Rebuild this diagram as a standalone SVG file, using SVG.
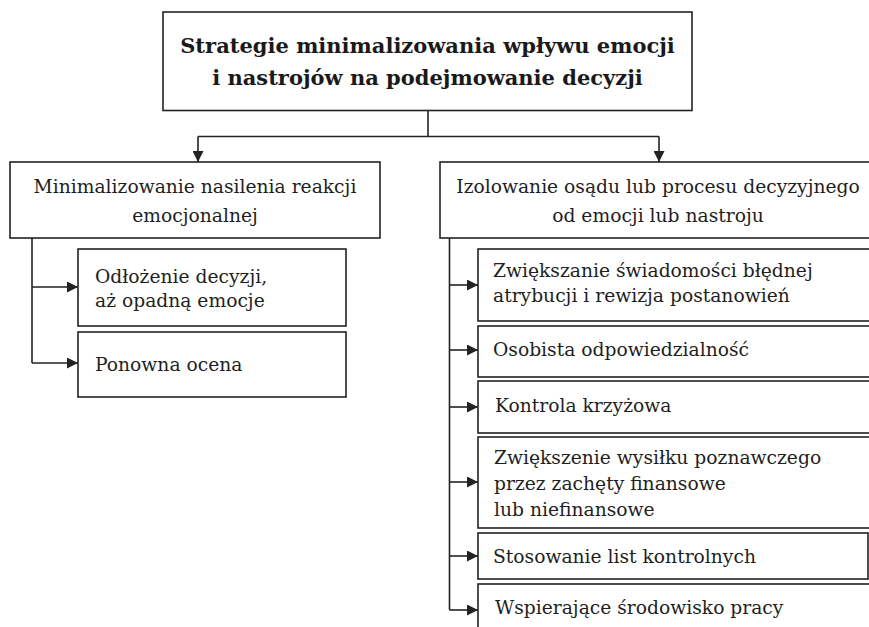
<svg xmlns="http://www.w3.org/2000/svg" width="869" height="627" viewBox="0 0 869 627">
  <defs>
    <style>
      .box { fill: #ffffff; stroke: #222222; stroke-width: 1.6; }
      .conn { fill: none; stroke: #222222; stroke-width: 1.6; }
      .t { font-family: "DejaVu Serif", "Liberation Serif", serif; font-size: 18.7px; fill: #1e1e1e; }
      .c { text-anchor: middle; }
      .title { font-family: "DejaVu Serif", "Liberation Serif", serif; font-size: 21px; font-weight: bold; fill: #1a1a1a; text-anchor: middle; }
    </style>
    <marker id="arr" markerUnits="userSpaceOnUse" markerWidth="12" markerHeight="11" refX="11" refY="5.5" orient="auto">
      <path d="M0,0 L11,5.5 L0,11 Z" fill="#222222"/>
    </marker>
  </defs>
  <rect width="869" height="627" fill="#ffffff"/>

  <g id="connectors">
    <path class="conn" d="M428,110.5 V136.5"/>
    <path class="conn" d="M198,136.5 H659"/>
    <path class="conn" d="M198,136.5 V162" marker-end="url(#arr)"/>
    <path class="conn" d="M659,136.5 V162" marker-end="url(#arr)"/>
    <path class="conn" d="M32,238 V363"/>
    <path class="conn" d="M32,287 H78" marker-end="url(#arr)"/>
    <path class="conn" d="M32,363 H78" marker-end="url(#arr)"/>
    <path class="conn" d="M449.5,238 V610"/>
    <path class="conn" d="M449.5,285 H478" marker-end="url(#arr)"/>
    <path class="conn" d="M449.5,350 H478" marker-end="url(#arr)"/>
    <path class="conn" d="M449.5,407 H478" marker-end="url(#arr)"/>
    <path class="conn" d="M449.5,482 H478" marker-end="url(#arr)"/>
    <path class="conn" d="M449.5,556 H478" marker-end="url(#arr)"/>
    <path class="conn" d="M449.5,610 H478" marker-end="url(#arr)"/>
  </g>

  <g id="root">
    <rect class="box" x="163" y="12" width="529" height="98.5"/>
    <text class="title" x="427.5" y="53">Strategie minimalizowania wpływu emocji</text>
    <text class="title" x="427.5" y="85">i nastrojów na podejmowanie decyzji</text>
  </g>

  <g id="left">
    <rect class="box" x="10" y="162" width="370" height="76"/>
    <text class="t c" x="195" y="193">Minimalizowanie nasilenia reakcji</text>
    <text class="t c" x="195" y="221.5">emocjonalnej</text>
  </g>

  <g id="left-1">
    <rect class="box" x="78" y="249" width="268" height="77"/>
    <text class="t" x="95" y="283">Odłożenie decyzji,</text>
    <text class="t" x="95" y="307">aż opadną emocje</text>
  </g>

  <g id="left-2">
    <rect class="box" x="78" y="332" width="268" height="65"/>
    <text class="t" x="95" y="371">Ponowna ocena</text>
  </g>

  <g id="right">
    <rect class="box" x="440" y="162" width="440" height="76"/>
    <text class="t c" x="658" y="193">Izolowanie osądu lub procesu decyzyjnego</text>
    <text class="t c" x="658" y="221.5">od emocji lub nastroju</text>
  </g>

  <g id="right-1">
    <rect class="box" x="478" y="249" width="402" height="72"/>
    <text class="t" x="493" y="277">Zwiększanie świadomości błędnej</text>
    <text class="t" x="493" y="302">atrybucji i rewizja postanowień</text>
  </g>

  <g id="right-2">
    <rect class="box" x="478" y="326" width="402" height="51"/>
    <text class="t" x="493" y="356">Osobista odpowiedzialność</text>
  </g>

  <g id="right-3">
    <rect class="box" x="478" y="381" width="402" height="52"/>
    <text class="t" x="495" y="412">Kontrola krzyżowa</text>
  </g>

  <g id="right-4">
    <rect class="box" x="478" y="437" width="402" height="91"/>
    <text class="t" x="494" y="464">Zwiększenie wysiłku poznawczego</text>
    <text class="t" x="494" y="490">przez zachęty finansowe</text>
    <text class="t" x="494" y="516">lub niefinansowe</text>
  </g>

  <g id="right-5">
    <rect class="box" x="478" y="533" width="390" height="46"/>
    <text class="t" x="493" y="563">Stosowanie list kontrolnych</text>
  </g>

  <g id="right-6">
    <rect class="box" x="478" y="584" width="402" height="60"/>
    <text class="t" x="495" y="614">Wspierające środowisko pracy</text>
  </g>
</svg>
